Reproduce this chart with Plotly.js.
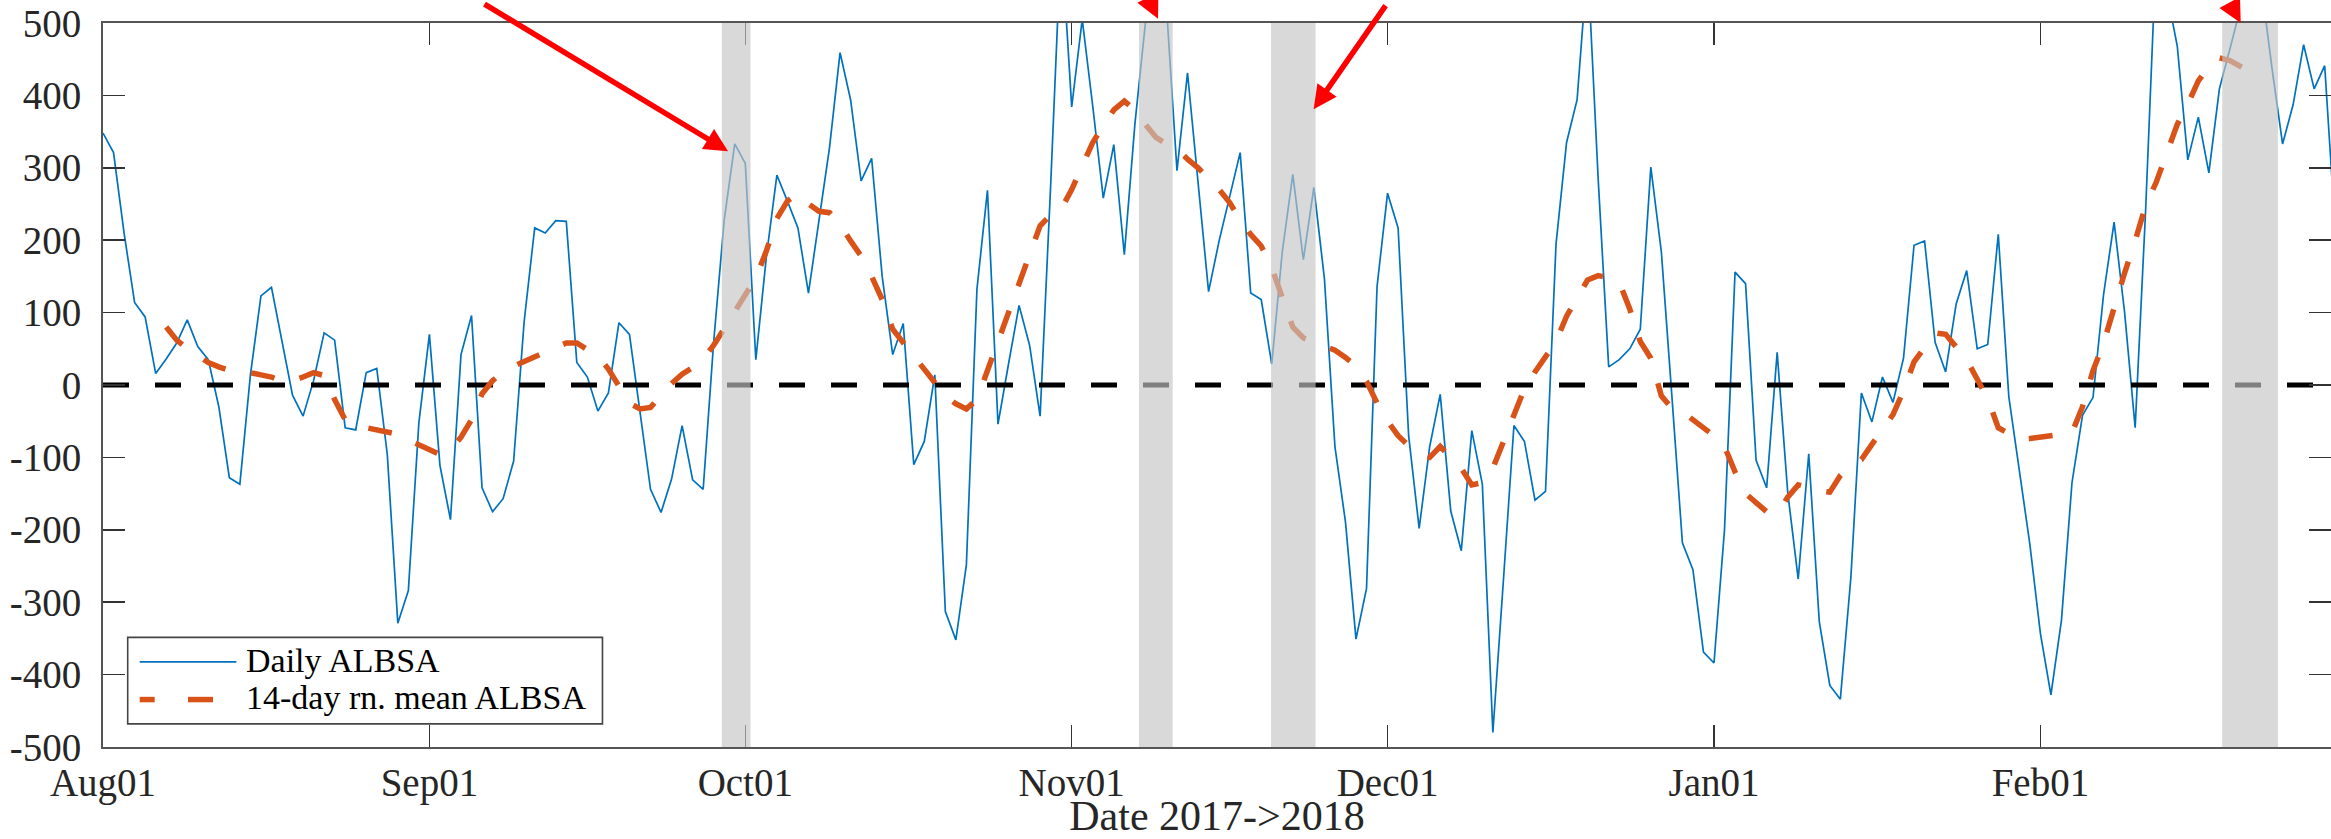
<!DOCTYPE html>
<html>
<head>
<meta charset="utf-8">
<script src="https://cdn.plot.ly/plotly-3.0.1.min.js"></script>
<style>
html,body{margin:0;padding:0;background:#fff;overflow:hidden}
#chart{width:2331px;height:839px}
</style>
</head>
<body>
<div id="chart"></div>
<script>
// ---------- data ----------
const startDate = [2017, 7, 1];          // 2017-08-01 (month is 0-based)
const dailyALBSA = [
  348, 321, 210, 114, 94, 16, 36, 58, 90, 53,
  35, -30, -128, -137, 14, 123, 135, 60, -14, -43,
  6, 72, 62, -59, -62, 17, 23, -96, -329, -284,
  -52, 70, -111, -186, 42, 96, -142, -175, -157, -105,
  88, 217, 210, 227, 226, 31, 11, -36, -11, 86,
  70, -37, -144, -176, -130, -56, -131, -144, 60, 228,
  333, 306, 35, 177, 290, 254, 217, 127, 228, 328,
  459, 394, 282, 313, 150, 42, 85, -110, -78, 14,
  -313, -352, -248, 132, 269, -54, 29, 110, 55, -43,
  275, 620, 384, 505, 385, 258, 332, 180, 360, 492,
  640, 523, 296, 431, 280, 129, 199, 258, 321, 127,
  118, 29, 184, 291, 173, 273, 147, -85, -189, -351,
  -281, 136, 265, 217, -70, -198, -85, -13, -174, -229,
  -63, -137, -480, -270, -56, -78, -159, -147, 195, 335,
  394, 585, 285, 25, 35, 50, 77, 301, 184, -15,
  -218, -255, -369, -384, -200, 156, 140, -104, -142, 45,
  -148, -268, -95, -327, -415, -434, -266, -11, -51, 11,
  -24, 37, 193, 199, 59, 18, 112, 158, 50, 56,
  208, -16, -118, -220, -343, -428, -325, -135, -42, -17,
  125, 225, 100, -59, 243, 600, 543, 468, 311, 370,
  293, 409, 464, 521, 560, 550, 437, 333, 387, 470,
  409, 441, 215
];
const meanStartIndex = 6;                // first day of the 14-day running mean
const meanALBSA = [
  80, 62, 50, 40, 31, 25, 20, 18, 17, 14,
  11, 5, 6, 11, 17, 13, -20, -48, -56, -59,
  -62, -65, -68, -76, -83, -91, -96, -90, -72, -48,
  -12, 6, 18, 26, 32, 38, 44, 51, 58, 58,
  50, 40, 22, 0, -25, -33, -31, -14, 2, 15,
  24, 36, 55, 78, 102, 127, 148, 185, 230, 254,
  265, 250, 240, 238, 222, 199, 178, 150, 118, 77,
  59, 40, 20, 3, -15, -26, -33, -20, 20, 55,
  100, 138, 180, 220, 235, 243, 270, 302, 335, 358,
  380, 392, 380, 360, 342, 333, 326, 312, 300, 285,
  270, 252, 228, 208, 192, 162, 120, 80, 65, 60,
  55, 48, 38, 26, 5, -25, -50, -70, -84, -95,
  -100, -85, -100, -115, -138, -135, -115, -78, -44, -5,
  18, 38, 60, 95, 120, 145, 151, 148, 142, 105,
  60, 37, -15, -32, -37, -48, -59, -70, -85, -120,
  -150, -162, -175, -178, -155, -138, -143, -146, -148, -125,
  -110, -103, -82, -62, -41, -8, 32, 52, 72, 70,
  52, 35, 8, -19, -59, -68, -75, -74, -72, -70,
  -69, -66, -30, 20, 58, 110, 155, 199, 248, 280,
  320, 360, 388, 420, 440, 452, 448, 439, 432, 428
];
const seriesNames = ['Daily ALBSA', '14-day rn. mean ALBSA'];
const xAxisTitle = 'Date 2017->2018';
const monthTickDates  = ['2017-08-01','2017-09-01','2017-10-01','2017-11-01','2017-12-01','2018-01-01','2018-02-01'];
const monthTickLabels = ['Aug01','Sep01','Oct01','Nov01','Dec01','Jan01','Feb01'];
const yTickValues = [-500,-400,-300,-200,-100,0,100,200,300,400,500];
const yTickLabels = ['-500','-400','-300','-200','-100','0','100','200','300','400','500'];
const bandStarts = ['2017-09-28 18:30','2017-11-07 09:20','2017-11-19 22:20','2018-02-18 06:30'];
const bandEnds   = ['2017-10-01 12:00','2017-11-10 14:10','2017-11-24 04:00','2018-02-23 13:30'];
const arrowTipX   = ['2017-09-29 08:40','2017-11-09 04:50','2017-11-23 23:30','2018-02-20 00:40'];
const arrowTipY   = [323, 1.006, 381, 1.0];
const arrowTipRef = ['y', 'paper', 'y', 'paper'];
const arrowDX = [-245, -8, 73, -11];
const arrowDY = [-148, -16.5, -105, -20.5];
const xRangeStart = '2017-08-01 00:00';
const xRangeEnd   = '2018-02-28 14:24';

// ---------- layout geometry (pixels) ----------
const W = 2331, H = 839;
const M = {l: 103.3, r: 0, t: 22.6, b: 91.5};
const plotW = W - M.l - M.r, plotH = H - M.t - M.b;
const px = v => (v - M.l) / plotW;          // pixel x -> paper x
const py = v => (H - M.b - v) / plotH;      // pixel y -> paper y

// ---------- build ----------
function dayString(i) {
  const d = new Date(Date.UTC(startDate[0], startDate[1], startDate[2] + i));
  return d.toISOString().slice(0, 10);
}
const dailyDates = dailyALBSA.map((_, i) => dayString(i));
const meanDates = meanALBSA.map((_, i) => dayString(i + meanStartIndex));

const FONT = 'Liberation Serif, "Times New Roman", Times, serif';
const BLUE = '#0072BD', ORANGE = '#D95319';
const TICKFONT = {family: FONT, size: 39, color: '#262626'};

const traces = [
  {
    x: dailyDates, y: dailyALBSA, type: 'scatter', mode: 'lines',
    name: seriesNames[0], showlegend: false,
    line: {color: BLUE, width: 1.7}
  },
  {
    x: [dailyDates[0], dailyDates[dailyDates.length - 1]], y: [0, 0],
    type: 'scatter', mode: 'lines', showlegend: false, hoverinfo: 'skip',
    line: {color: '#000000', width: 5, dash: '26px,26px'}
  },
  {
    x: meanDates, y: meanALBSA, type: 'scatter', mode: 'lines',
    name: seriesNames[1], showlegend: false,
    line: {color: ORANGE, width: 5.5, dash: '24px,26px'}
  }
];

const shapes = bandStarts.map((s, i) => ({
  type: 'rect', xref: 'x', yref: 'paper', x0: s, x1: bandEnds[i], y0: 0, y1: 1,
  fillcolor: 'rgb(196,196,196)', opacity: 0.65, line: {width: 0}, layer: 'above'
}));

// legend box drawn in MATLAB style (box + samples + labels)
shapes.push({
  type: 'rect', xref: 'paper', yref: 'paper',
  x0: px(128), x1: px(602.7), y0: py(724.3), y1: py(637.7),
  fillcolor: '#ffffff', line: {color: '#444444', width: 1.6}, layer: 'above'
});
shapes.push({
  type: 'line', xref: 'paper', yref: 'paper',
  x0: px(140), x1: px(236.7), y0: py(662.3), y1: py(662.3),
  line: {color: BLUE, width: 1.8}, layer: 'above'
});
[[140, 155], [188.3, 213.3]].forEach(seg => shapes.push({
  type: 'line', xref: 'paper', yref: 'paper',
  x0: px(seg[0]), x1: px(seg[1]), y0: py(700), y1: py(700),
  line: {color: ORANGE, width: 5.5}, layer: 'above'
}));

const annotations = arrowTipX.map((x, i) => ({
  x: x, y: arrowTipY[i], xref: 'x', yref: arrowTipRef[i],
  text: '', showarrow: true, ax: arrowDX[i], ay: arrowDY[i],
  font: {size: 1},
  arrowcolor: '#FF0000', arrowwidth: 5.5, arrowhead: 2, arrowsize: 0.85, standoff: 0
}));
[[seriesNames[0], 661], [seriesNames[1], 698]].forEach(item => annotations.push({
  text: item[0], xref: 'paper', yref: 'paper', x: px(244.5), y: py(item[1]),
  xanchor: 'left', yanchor: 'middle', showarrow: false,
  font: {family: FONT, size: 34, color: '#000000'}
}));

const layout = {
  width: W, height: H,
  margin: {l: M.l, r: M.r, t: M.t, b: M.b, pad: 0},
  paper_bgcolor: '#ffffff', plot_bgcolor: '#ffffff',
  font: {family: FONT, size: 39, color: '#262626'},
  showlegend: false,
  xaxis: {
    type: 'date', range: [xRangeStart, xRangeEnd],
    tickmode: 'array', tickvals: monthTickDates, ticktext: monthTickLabels,
    ticks: 'inside', ticklen: 22, tickwidth: 1.5, tickcolor: '#333333',
    showline: true, linecolor: '#555555', linewidth: 2, mirror: 'ticks',
    showgrid: false, zeroline: false,
    tickfont: TICKFONT,
    title: {text: xAxisTitle, font: {family: FONT, size: 42, color: '#262626'}, standoff: 10}
  },
  yaxis: {
    range: [-500, 500],
    tickmode: 'array', tickvals: yTickValues, ticktext: yTickLabels,
    ticks: 'inside', ticklen: 22, tickwidth: 1.5, tickcolor: '#333333',
    showline: true, linecolor: '#555555', linewidth: 2, mirror: 'ticks',
    showgrid: false, zeroline: false, ticklabelstandoff: 12,
    tickfont: TICKFONT
  },
  shapes: shapes,
  annotations: annotations
};

Plotly.newPlot('chart', traces, layout, {displayModeBar: false, staticPlot: true});
</script>
</body>
</html>
